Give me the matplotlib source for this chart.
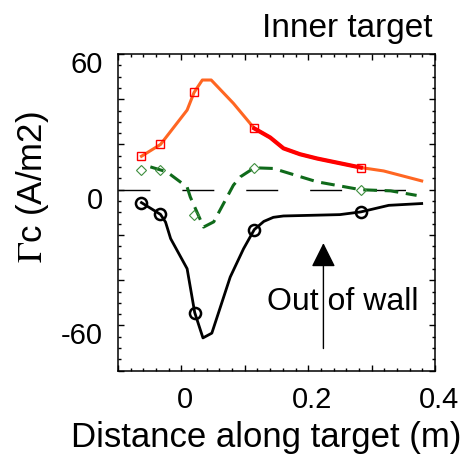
import matplotlib
matplotlib.use("Agg")
import matplotlib.pyplot as plt
import matplotlib.transforms as mtransforms
from matplotlib.ticker import MultipleLocator, FixedLocator

plt.rcParams['font.family'] = ['Liberation Sans', 'DejaVu Sans']
plt.rcParams['mathtext.fontset'] = 'stix'

# upstream current profile (orange), red where it follows the probe data
x_orange = [-0.063, -0.033, 0.009, 0.020, 0.033, 0.047, 0.082, 0.115, 0.140,
            0.161, 0.187, 0.214, 0.283, 0.319, 0.379]
y_orange = [14.8, 20.0, 35.2, 43.0, 48.5, 48.5, 38.2, 27.1, 23.1,
            18.3, 15.7, 13.8, 9.8, 8.3, 3.9]
x_red = [0.115, 0.140, 0.161, 0.187, 0.214, 0.283]
y_red = [27.1, 23.1, 18.3, 15.7, 13.8, 9.8]
x_sq = [-0.063, -0.033, 0.020, 0.115, 0.283]
y_sq = [14.8, 20.0, 43.0, 27.1, 9.8]

# net current (green dashed)
x_green = [-0.049, -0.023, 0.009, 0.014, 0.035, 0.051, 0.082, 0.093, 0.115,
           0.145, 0.214, 0.283, 0.330, 0.371]
y_green = [10.1, 7.9, 1.2, -3.2, -16.5, -14.2, 2.0, 5.7, 9.7,
           9.4, 3.5, 0.0, -0.5, -2.5]
x_dia = [-0.063, -0.033, 0.020, 0.115, 0.283]
y_dia = [8.9, 8.9, -11.2, 9.7, 0.0]

# return current (black)
x_black = [-0.063, -0.033, -0.025, -0.017, 0.009, 0.021, 0.034, 0.048, 0.077,
           0.098, 0.115, 0.130, 0.145, 0.161, 0.250, 0.283, 0.327, 0.379]
y_black = [-5.7, -10.9, -14.3, -21.6, -34.9, -54.3, -65.5, -63.4, -38.6,
           -26.1, -17.6, -14.0, -12.2, -11.6, -11.0, -9.8, -6.9, -6.1]
x_circ = [-0.063, -0.033, 0.021, 0.115, 0.283]
y_circ = [-5.7, -10.9, -54.3, -17.6, -9.8]

xtick_vals = [0, 0.2, 0.4]
xtick_labels = ['0', '0.2', '0.4']
ytick_vals = [-60, 0, 60]
ytick_labels = ['-60', '0', '60']

fig = plt.figure(figsize=(4.74, 4.57), dpi=100)
ax = fig.add_axes([118 / 474, 1 - 370.7 / 457, 317 / 474, 316.7 / 457])

orange = '#ff6622'
dkgreen = '#0f6a1a'

ax.plot([-0.1, 0.4], [0, 0], color='black', lw=1.0, dashes=(23, 23))

ax.plot(x_orange, y_orange, color=orange, lw=2.2, zorder=3)
ax.plot(x_red, y_red, color='#ff0000', lw=3.0, zorder=4)
ax.plot(x_sq, y_sq, ls='none', marker='s', ms=6, mfc='none', mec='#ff0000',
        mew=1.0, zorder=5)

ax.plot(x_green, y_green, color=dkgreen, lw=2.2, dashes=(4.5, 2.5), zorder=3)
ax.plot(x_dia, y_dia, ls='none', marker='D', ms=5, mfc='none', mec='#3f8f3f',
        mew=0.8, zorder=5)

ax.plot(x_black, y_black, color='black', lw=2.0, zorder=3)
ax.plot(x_circ, y_circ, ls='none', marker='o', ms=8, mfc='none', mec='black',
        mew=1.8, zorder=5)

ax.annotate('', xy=(0.224, -23.6), xytext=(0.224, -70.2),
            arrowprops=dict(arrowstyle='-|>,head_length=1.5,head_width=0.75',
                            mutation_scale=10, color='black', lw=1.0,
                            shrinkA=0, shrinkB=0))
ax.text(0.135, -53.0, 'Out of wall', fontsize=23, ha='left', va='baseline')

ax.set_xlim(-0.1, 0.4)
ax.set_ylim(-80, 60)
ax.xaxis.set_major_locator(FixedLocator([-0.1, 0.0, 0.1, 0.2, 0.3, 0.4]))
ax.xaxis.set_minor_locator(MultipleLocator(0.02))
ax.yaxis.set_major_locator(MultipleLocator(20))
ax.yaxis.set_minor_locator(MultipleLocator(5))
ax.tick_params(which='both', direction='in', top=True, right=True, width=1.0)
ax.tick_params(which='major', length=4)
ax.tick_params(which='minor', length=2)
ax.tick_params(axis='x', pad=11, labelsize=21)
ax.tick_params(axis='y', pad=11, labelsize=21)

xl = [t if round(t, 3) in xtick_vals else None for t in [-0.1, 0.0, 0.1, 0.2, 0.3, 0.4]]
ax.set_xticklabels(['' if v is None else xtick_labels[xtick_vals.index(round(v, 3))] for v in xl])
ax.set_yticks(list(range(-80, 61, 20)))
ax.set_yticklabels([ytick_labels[ytick_vals.index(v)] if v in ytick_vals else ''
                    for v in range(-80, 61, 20)])

# small offsets for tick labels
dx = mtransforms.ScaledTranslation(4 / 100, 0, fig.dpi_scale_trans)
for lbl in ax.get_xticklabels():
    lbl.set_transform(lbl.get_transform() + dx)
dy = mtransforms.ScaledTranslation(0, -8 / 100, fig.dpi_scale_trans)
for lbl in ax.get_yticklabels():
    lbl.set_transform(lbl.get_transform() + dy)

for sp in ax.spines.values():
    sp.set_linewidth(1.1)

ax.set_xlabel('Distance along target (m)', fontsize=25, va='baseline')
ax.xaxis.set_label_coords(0.467, -0.241)
ax.set_ylabel(r'$\Gamma$c (A/m2)', fontsize=25, va='center')
ax.yaxis.set_label_coords(-0.271, 0.578)

fig.text(432 / 474, 1 - 36.7 / 457, 'Inner target', fontsize=24,
         ha='right', va='baseline')

fig.savefig('out.png', dpi=100)
